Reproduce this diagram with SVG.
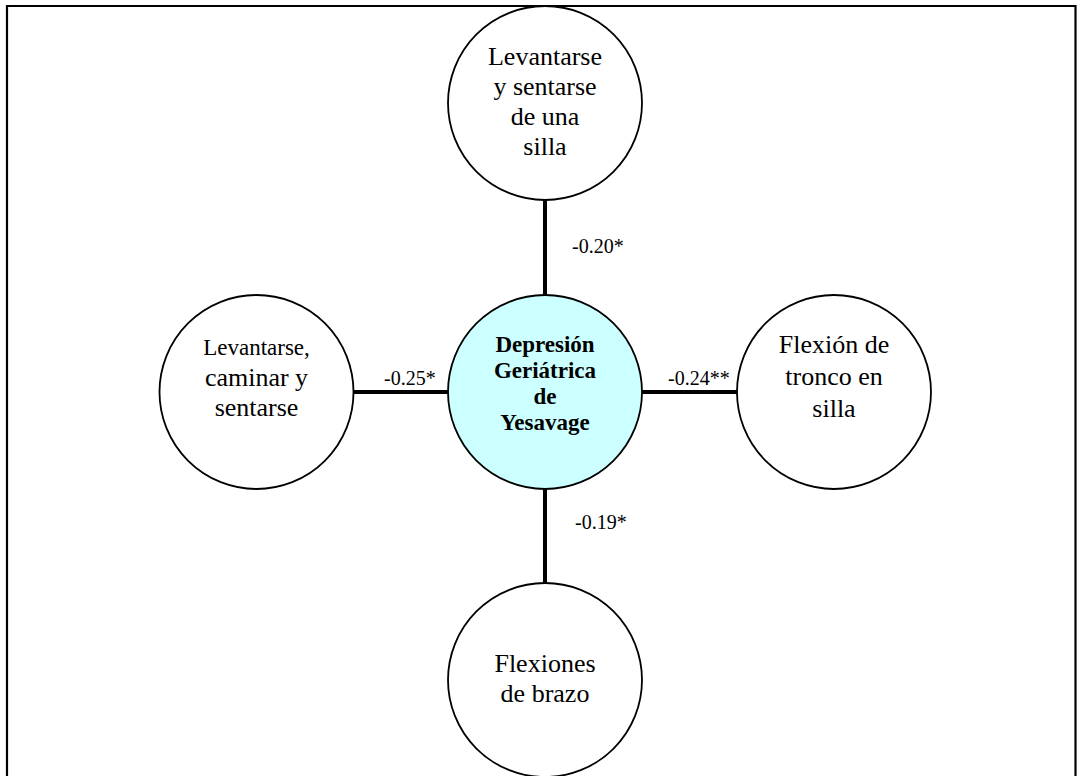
<svg xmlns="http://www.w3.org/2000/svg" width="1077" height="776" viewBox="0 0 1077 776">
<style>
.node{fill:#fff;stroke:#000;stroke-width:1.8}
.center{fill:#ccffff;stroke:#000;stroke-width:1.8}
.t{font-family:"Liberation Serif","Times New Roman",serif;font-size:26px;fill:#000;text-anchor:middle}
.b{font-family:"Liberation Serif","Times New Roman",serif;font-size:23px;font-weight:bold;fill:#000;text-anchor:middle}
.lab{font-family:"Liberation Serif","Times New Roman",serif;font-size:20px;fill:#000}
.conn{stroke:#000;stroke-width:4;fill:none}
.frame{stroke:#000;stroke-width:2.2;fill:none}
</style>
<rect width="1077" height="776" fill="#fff"/>
<path class="frame" d="M7,776 V6 H1075.5 V776"/>
<g id="connectors">
<line class="conn" x1="545" y1="200" x2="545" y2="295"/>
<line class="conn" x1="545" y1="488" x2="545" y2="584"/>
<line class="conn" x1="353" y1="392" x2="448" y2="392"/>
<line class="conn" x1="642" y1="392" x2="737" y2="392"/>
<text class="lab" x="572" y="253">-0.20*</text>
<text class="lab" x="575" y="529">-0.19*</text>
<text class="lab" x="384" y="385">-0.25*</text>
<text class="lab" x="668" y="385">-0.24**</text>
</g>
<g id="node-top">
<circle class="node" cx="545" cy="103" r="97"/>
<text class="t" x="545" y="65">Levantarse</text>
<text class="t" x="545" y="95">y sentarse</text>
<text class="t" x="545" y="125">de una</text>
<text class="t" x="545" y="155">silla</text>
</g>
<g id="node-center">
<circle class="center" cx="545" cy="392" r="97"/>
<text class="b" x="545" y="352">Depresión</text>
<text class="b" x="545" y="378">Geriátrica</text>
<text class="b" x="545" y="404">de</text>
<text class="b" x="545" y="430">Yesavage</text>
</g>
<g id="node-left">
<circle class="node" cx="256.5" cy="392" r="97"/>
<text class="t" x="256.5" y="355" style="font-size:23px">Levantarse,</text>
<text class="t" x="256.5" y="386">caminar y</text>
<text class="t" x="256.5" y="416">sentarse</text>
</g>
<g id="node-right">
<circle class="node" cx="834" cy="392" r="97"/>
<text class="t" x="834" y="353">Flexión de</text>
<text class="t" x="834" y="385">tronco en</text>
<text class="t" x="834" y="417">silla</text>
</g>
<g id="node-bottom">
<circle class="node" cx="545" cy="680" r="97"/>
<text class="t" x="545" y="672">Flexiones</text>
<text class="t" x="545" y="702">de brazo</text>
</g>
</svg>
